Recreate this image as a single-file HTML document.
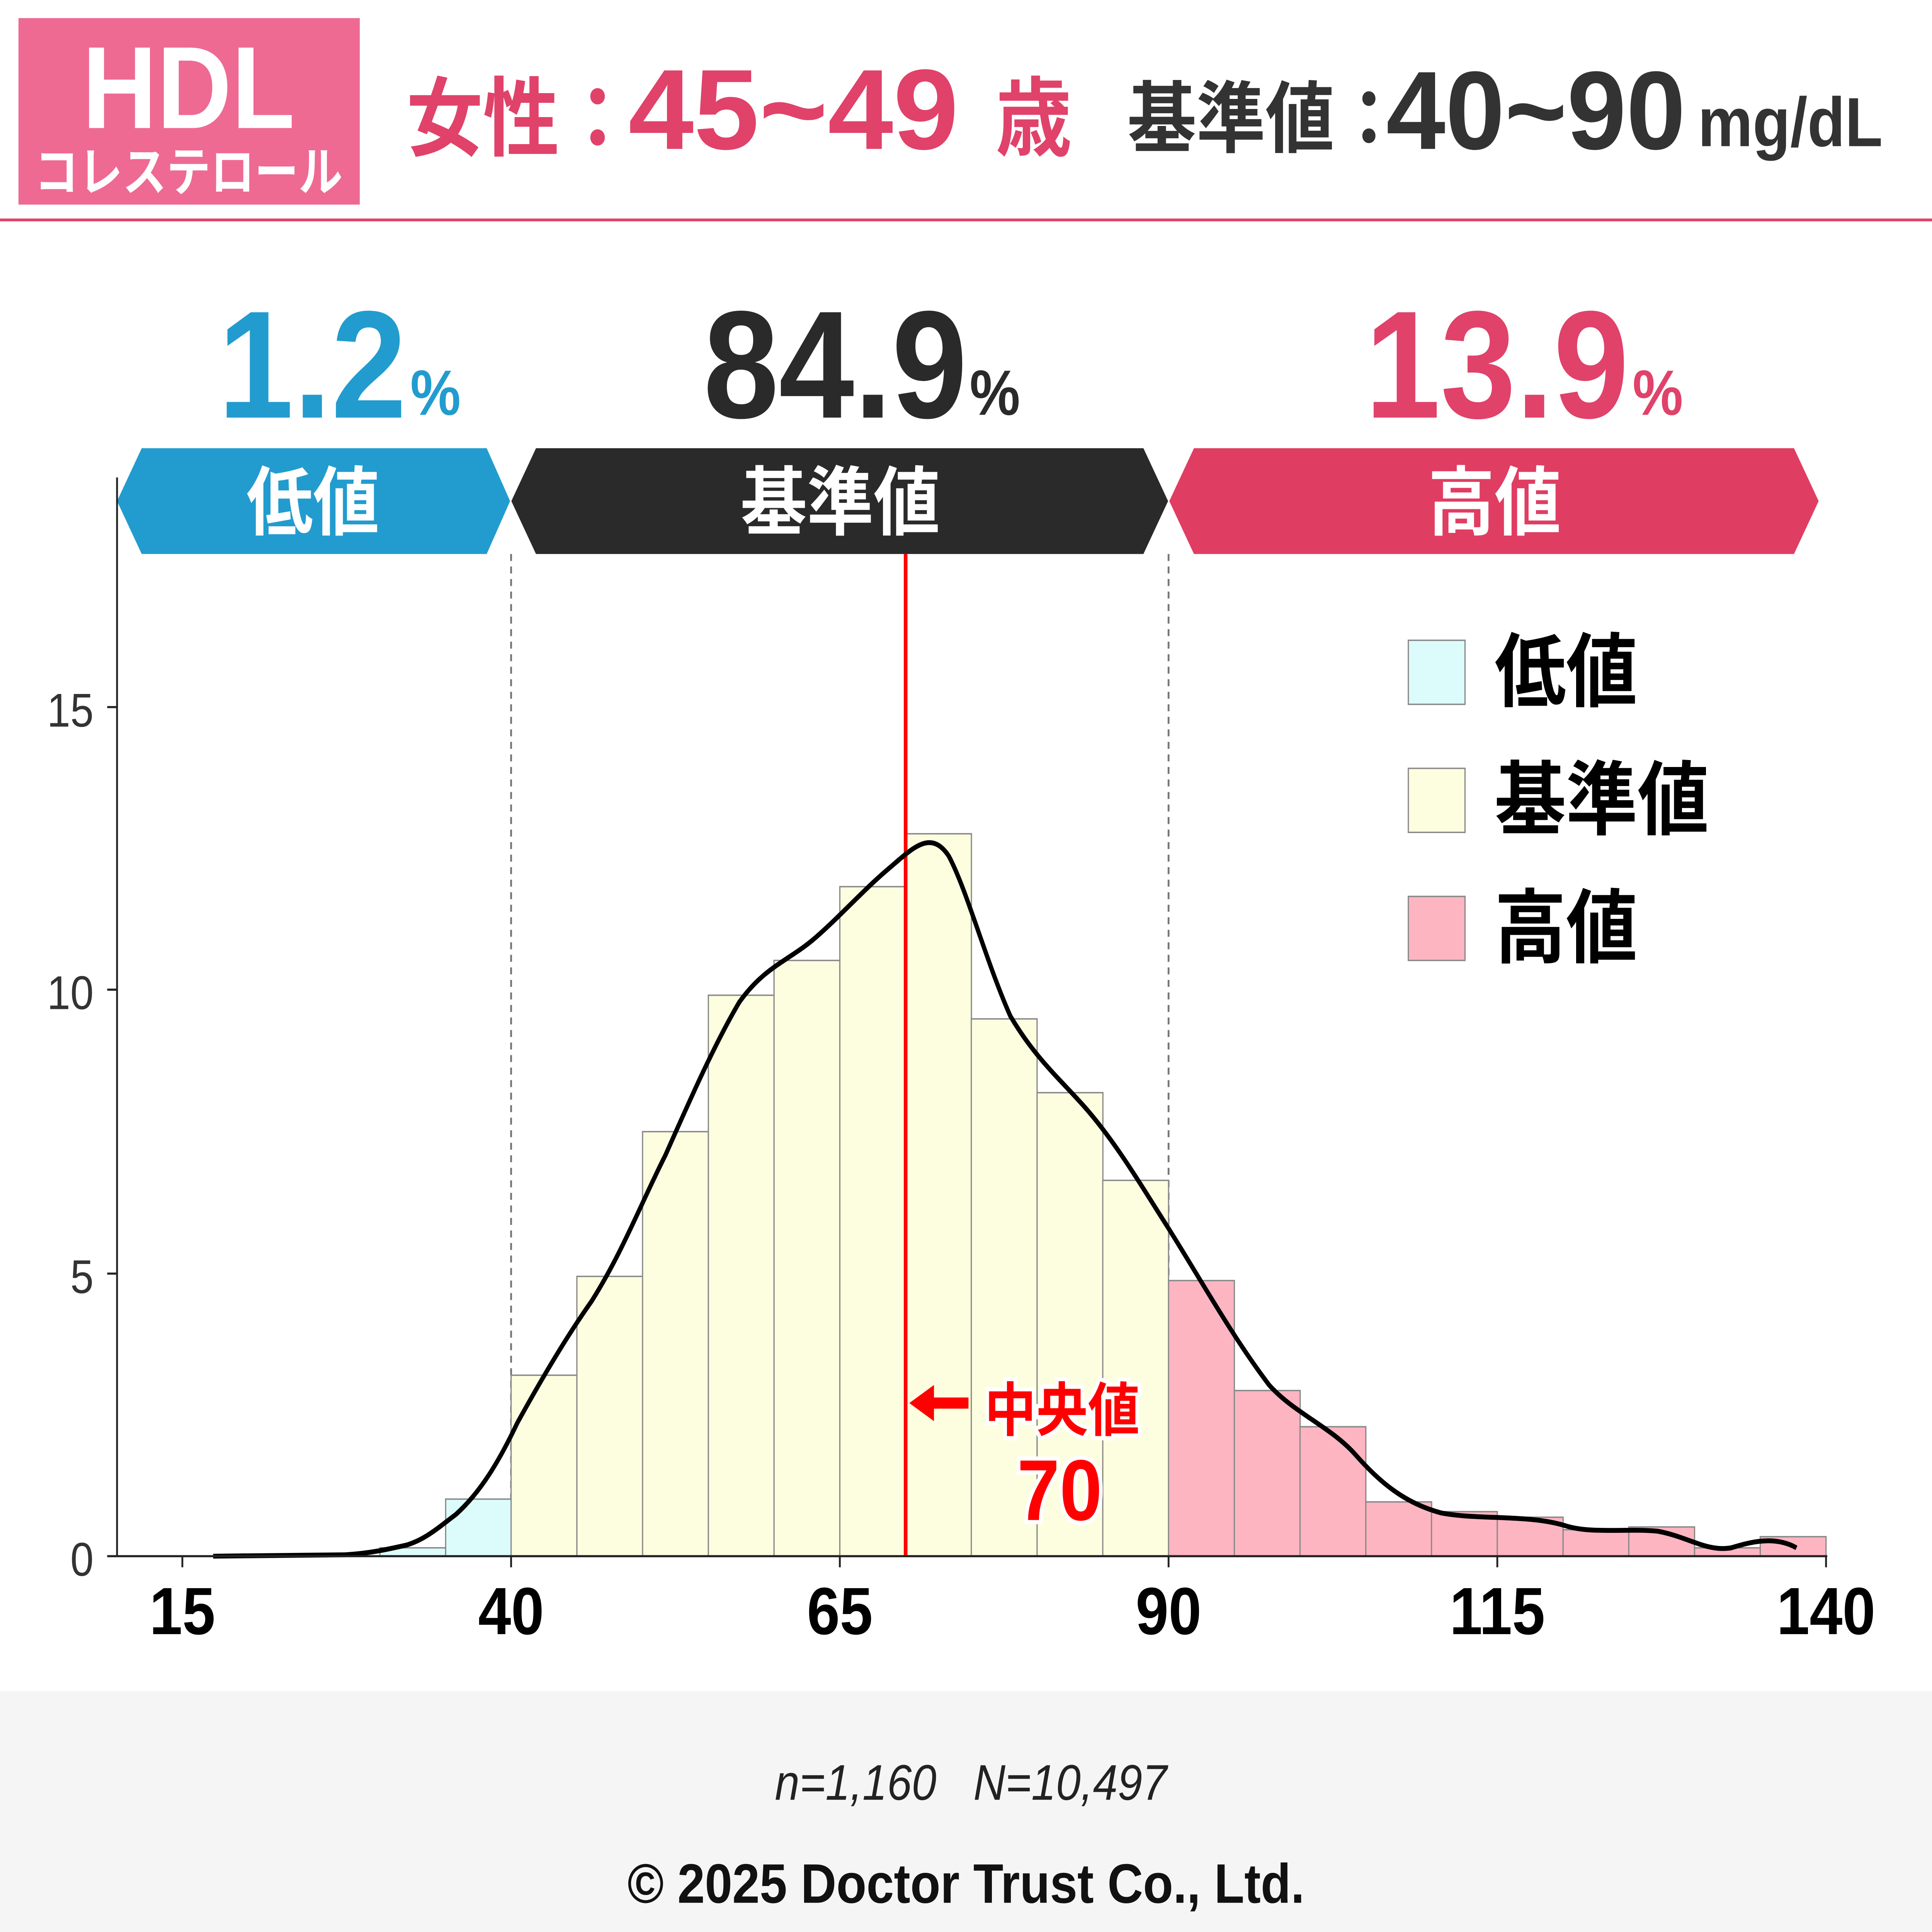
<!DOCTYPE html>
<html><head><meta charset="utf-8"><style>
html,body{margin:0;padding:0;background:#fff;overflow:hidden;width:100vw;height:100vh}
svg{display:block;width:100vw;height:100vh}
text{font-family:"Liberation Sans","Noto Sans CJK JP",sans-serif}
</style></head><body>
<svg viewBox="0 0 1568 1388" preserveAspectRatio="none" xmlns="http://www.w3.org/2000/svg">
<rect width="1568" height="1388" fill="#fff"/>
<rect x="15" y="13" width="277" height="134" fill="#ee6a93"/>
<text x="153" y="92" fill="#fff" font-size="84" font-weight="bold" text-anchor="middle">HDL</text>
<text x="153" y="137" fill="#fff" font-size="38" font-weight="bold" text-anchor="middle" textLength="250" lengthAdjust="spacingAndGlyphs">コレステロール</text>
<text x="330" y="107" fill="#e0426a" font-size="62" font-weight="bold">女性：</text>
<text x="510" y="107" fill="#e0426a" font-size="82" font-weight="bold" textLength="268" lengthAdjust="spacingAndGlyphs">45~49</text>
<text x="808" y="107" fill="#e0426a" font-size="62" font-weight="bold">歳</text>
<text x="915" y="105" fill="#333" font-size="56" font-weight="bold">基準値：</text>
<text x="1125" y="107" fill="#333" font-size="80" font-weight="bold" textLength="243" lengthAdjust="spacingAndGlyphs">40~90</text>
<text x="1378" y="105" fill="#333" font-size="50" font-weight="bold">mg/dL</text>
<rect x="0" y="157" width="1568" height="2" fill="#e0426a"/>
<text x="330" y="300" fill="#229ccf" font-size="110" font-weight="bold" text-anchor="end">1.2</text>
<text x="333" y="298" fill="#229ccf" font-size="46" font-weight="bold">%</text>
<text x="785" y="300" fill="#2a2a2a" font-size="110" font-weight="bold" text-anchor="end">84.9</text>
<text x="787" y="298" fill="#2a2a2a" font-size="46" font-weight="bold">%</text>
<text x="1322" y="300" fill="#e0426a" font-size="110" font-weight="bold" text-anchor="end">13.9</text>
<text x="1325" y="298" fill="#e0426a" font-size="46" font-weight="bold">%</text>
<polygon points="95,360 115,322 395,322 414,360 395,398 115,398" fill="#229ccf"/>
<text x="254" y="380" fill="#fff" font-size="54" font-weight="bold" text-anchor="middle">低値</text>
<polygon points="415,360 435,322 928,322 948,360 928,398 435,398" fill="#2a2a2a"/>
<text x="682" y="380" fill="#fff" font-size="54" font-weight="bold" text-anchor="middle">基準値</text>
<polygon points="949,360 969,322 1456,322 1476,360 1456,398 969,398" fill="#e03d63"/>
<text x="1213" y="380" fill="#fff" font-size="54" font-weight="bold" text-anchor="middle">高値</text>
<line x1="414.8" y1="398" x2="414.8" y2="1118" stroke="#777" stroke-width="1.5" stroke-dasharray="5,4"/>
<line x1="948.4" y1="398" x2="948.4" y2="1118" stroke="#777" stroke-width="1.5" stroke-dasharray="5,4"/>
<g stroke="#888" stroke-width="1">
<rect x="308.3" y="1112" width="53.4" height="6" fill="#dcfcfc"/>
<rect x="361.7" y="1077" width="53.4" height="41" fill="#dcfcfc"/>
<rect x="414.8" y="988" width="53.4" height="130" fill="#fdfde0"/>
<rect x="468.2" y="917" width="53.4" height="201" fill="#fdfde0"/>
<rect x="521.5" y="813" width="53.4" height="305" fill="#fdfde0"/>
<rect x="574.9" y="715" width="53.4" height="403" fill="#fdfde0"/>
<rect x="628.2" y="690" width="53.4" height="428" fill="#fdfde0"/>
<rect x="681.6" y="637" width="53.4" height="481" fill="#fdfde0"/>
<rect x="735" y="599" width="53.4" height="519" fill="#fdfde0"/>
<rect x="788.3" y="732" width="53.4" height="386" fill="#fdfde0"/>
<rect x="841.7" y="785" width="53.4" height="333" fill="#fdfde0"/>
<rect x="895" y="848" width="53.4" height="270" fill="#fdfde0"/>
<rect x="948.4" y="920" width="53.4" height="198" fill="#feb5c2"/>
<rect x="1001.8" y="999" width="53.4" height="119" fill="#feb5c2"/>
<rect x="1055.1" y="1025" width="53.4" height="93" fill="#feb5c2"/>
<rect x="1108.5" y="1079" width="53.4" height="39" fill="#feb5c2"/>
<rect x="1161.8" y="1086" width="53.4" height="32" fill="#feb5c2"/>
<rect x="1215.2" y="1090" width="53.4" height="28" fill="#feb5c2"/>
<rect x="1268.6" y="1099" width="53.4" height="19" fill="#feb5c2"/>
<rect x="1321.9" y="1097" width="53.4" height="21" fill="#feb5c2"/>
<rect x="1375.3" y="1112" width="53.4" height="6" fill="#feb5c2"/>
<rect x="1428.6" y="1104" width="53.4" height="14" fill="#feb5c2"/>
</g>
<line x1="735" y1="398" x2="735" y2="1118" stroke="#f00" stroke-width="3"/>
<polygon points="738,1008 758,995 758,1021" fill="#f00"/>
<rect x="756" y="1004" width="30" height="8" fill="#f00"/>
<text x="862" y="1028" fill="#f00" font-size="42" font-weight="bold" text-anchor="middle" stroke="#fff" stroke-width="6" paint-order="stroke">中央値</text>
<text x="860" y="1092" fill="#f00" font-size="62" font-weight="bold" text-anchor="middle" stroke="#fff" stroke-width="6" paint-order="stroke">70</text>
<path d="M173,1118 L280,1117 C300,1116 315,1113 330,1110 C345,1106 355,1098 370,1088 C390,1072 405,1050 420,1022 C440,990 460,960 480,935 C505,900 520,865 540,830 C560,790 580,750 600,720 C620,695 640,690 660,675 C680,660 700,640 720,625 C740,610 755,595 770,615 C785,640 800,690 820,730 C840,760 860,775 880,795 C905,820 925,850 948,882 C975,920 1000,960 1030,995 C1050,1015 1080,1025 1100,1045 C1120,1065 1140,1080 1170,1087 C1200,1092 1240,1088 1270,1096 C1290,1102 1320,1098 1345,1100 C1370,1104 1385,1115 1405,1112 C1420,1108 1440,1103 1458,1112" fill="none" stroke="#000" stroke-width="3.5"/>
<line x1="95" y1="343" x2="95" y2="1118" stroke="#222" stroke-width="1.5"/>
<line x1="95" y1="1118" x2="1483" y2="1118" stroke="#222" stroke-width="1.5"/>
<g stroke="#222" stroke-width="1.5">
<line x1="87" y1="1118" x2="95" y2="1118"/><line x1="87" y1="915" x2="95" y2="915"/>
<line x1="87" y1="711" x2="95" y2="711"/><line x1="87" y1="508" x2="95" y2="508"/>
<line x1="148" y1="1118" x2="148" y2="1126"/><line x1="414.8" y1="1118" x2="414.8" y2="1126"/>
<line x1="681.6" y1="1118" x2="681.6" y2="1126"/><line x1="948.4" y1="1118" x2="948.4" y2="1126"/>
<line x1="1215.2" y1="1118" x2="1215.2" y2="1126"/><line x1="1482" y1="1118" x2="1482" y2="1126"/>
</g>
<g fill="#333" font-size="34" text-anchor="end">
<text x="76" y="1132">0</text><text x="76" y="929">5</text><text x="76" y="725">10</text><text x="76" y="522">15</text>
</g>
<g fill="#000" font-size="48" font-weight="bold" text-anchor="middle">
<text x="148" y="1174">15</text><text x="414.8" y="1174">40</text><text x="681.6" y="1174">65</text>
<text x="948.4" y="1174">90</text><text x="1215.2" y="1174">115</text><text x="1482" y="1174">140</text>
</g>
<rect x="1143" y="460" width="46" height="46" fill="#dcfcfc" stroke="#888"/>
<rect x="1143" y="552" width="46" height="46" fill="#fdfde0" stroke="#888"/>
<rect x="1143" y="644" width="46" height="46" fill="#feb5c2" stroke="#888"/>
<g fill="#000" font-size="58" font-weight="bold">
<text x="1213" y="503">低値</text><text x="1213" y="595">基準値</text><text x="1213" y="687">高値</text>
</g>
<rect x="0" y="1215" width="1568" height="173" fill="#f5f5f5"/>
<text x="788" y="1293" fill="#222" font-size="36" font-style="italic" text-anchor="middle" xml:space="preserve">n=1,160   N=10,497</text>
<text x="784" y="1367" fill="#111" font-size="40" font-weight="bold" text-anchor="middle">© 2025 Doctor Trust Co., Ltd.</text>
</svg>
</body></html>
